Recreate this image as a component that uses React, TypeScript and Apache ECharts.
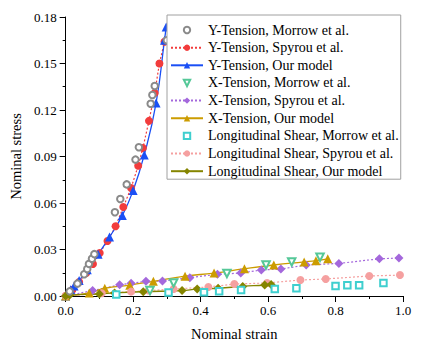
import React, { useEffect, useRef } from "react";
import * as echarts from "echarts";

const xTicks = [0, 0.2, 0.4, 0.6, 0.8, 1.0];
const yTicks = [0, 0.03, 0.06, 0.09, 0.12, 0.15, 0.18];

const seriesNames = [
  "Y-Tension, Morrow et al.",
  "Y-Tension, Spyrou et al.",
  "Y-Tension, Our model",
  "X-Tension, Morrow et al.",
  "X-Tension, Spyrou et al.",
  "X-Tension, Our model",
  "Longitudinal Shear, Morrow et al.",
  "Longitudinal Shear, Spyrou et al.",
  "Longitudinal Shear, Our model",
];

const yMorrow = [
  [0.012, 0.003], [0.035, 0.008], [0.055, 0.014], [0.064, 0.0174], [0.069, 0.0207],
  [0.078, 0.024], [0.085, 0.027], [0.146, 0.054], [0.162, 0.0626], [0.181, 0.072],
  [0.207, 0.088], [0.217, 0.096], [0.252, 0.124], [0.257, 0.1297], [0.264, 0.1355],
  [0.3, 0.165],
];
const ySpyrou = [
  [0, 0], [0.02, 0.004], [0.04, 0.009], [0.061, 0.0148], [0.081, 0.0206],
  [0.101, 0.0277], [0.124, 0.0355], [0.148, 0.045], [0.171, 0.0574], [0.194, 0.0697],
  [0.215, 0.084], [0.229, 0.0955], [0.247, 0.113], [0.264, 0.131], [0.278, 0.15],
  [0.293, 0.164],
];
const yModel = [
  [0, 0], [0.015, 0.004], [0.025, 0.0065], [0.04, 0.01], [0.064, 0.017],
  [0.096, 0.027], [0.13, 0.038], [0.168, 0.052], [0.2, 0.068], [0.233, 0.091],
  [0.268, 0.1245], [0.293, 0.165], [0.298, 0.1735],
];
const xMorrow = [
  [0.25, 0.0035], [0.32, 0.0084], [0.478, 0.0145], [0.594, 0.02], [0.67, 0.022], [0.754, 0.025],
];
const xSpyrou = [
  [0, 0], [0.08, 0.0035], [0.16, 0.0072], [0.194, 0.0082], [0.238, 0.0095],
  [0.287, 0.0097], [0.368, 0.0118], [0.45, 0.014], [0.519, 0.0148], [0.58, 0.0168],
  [0.638, 0.0174], [0.713, 0.02], [0.81, 0.021], [0.93, 0.024], [0.988, 0.0245],
];
const xModel = [
  [0, 0], [0.07, 0.002], [0.116, 0.005], [0.19, 0.007], [0.26, 0.0095],
  [0.354, 0.0128], [0.44, 0.0148], [0.53, 0.0176], [0.617, 0.02], [0.707, 0.022],
  [0.742, 0.0228], [0.777, 0.024],
];
const sMorrow = [
  [0.15, 0.001], [0.305, 0.0022], [0.41, 0.0024], [0.455, 0.003], [0.52, 0.0038],
  [0.62, 0.0045], [0.684, 0.005], [0.8, 0.0065], [0.835, 0.007], [0.87, 0.007],
  [0.942, 0.0084],
];
const sSpyrou = [
  [0, 0], [0.107, 0.0018], [0.194, 0.0028], [0.246, 0.0035], [0.32, 0.0045],
  [0.423, 0.0058], [0.5, 0.0077], [0.597, 0.0084], [0.696, 0.0103], [0.771, 0.011],
  [0.9, 0.0129], [0.991, 0.0135],
];
const sModel = [
  [0, 0], [0.012, 0.0006], [0.1, 0.0013], [0.145, 0.002], [0.23, 0.0028],
  [0.345, 0.0035], [0.39, 0.0045], [0.452, 0.005], [0.525, 0.0062], [0.59, 0.0071],
  [0.609, 0.0075],
];

const FONT = "Times New Roman, Liberation Serif, DejaVu Serif, serif";

export default function App() {
  const ref = useRef<HTMLDivElement>(null);
  useEffect(() => {
    if (!ref.current) return;
    const chart = echarts.init(ref.current, undefined, { renderer: "svg" });

    const markers = (name: string, data: number[][], symbol: string, color: string, size: number, rotate = 0) => ({
      name,
      type: "line",
      data,
      symbol,
      symbolSize: size,
      symbolRotate: rotate,
      showSymbol: true,
      lineStyle: { width: 0, opacity: 0 },
      itemStyle: { color, borderColor: color, borderWidth: 0.9 },
      z: 3,
    });
    const line = (
      name: string,
      data: number[][],
      symbol: string,
      color: string,
      size: number,
      dashed: boolean,
      smooth: boolean
    ) => ({
      name,
      type: "line",
      data,
      symbol,
      symbolSize: size,
      showSymbol: true,
      smooth,
      lineStyle: { color, width: dashed ? 1.2 : 1.3, type: dashed ? [2, 2] : "solid" },
      itemStyle: { color },
      z: 2,
    });

    chart.setOption({
      animation: false,
      backgroundColor: "#ffffff",
      textStyle: { fontFamily: FONT },
      grid: { left: 57, right: 19, top: 17, bottom: 56, containLabel: false },
      legend: {
        orient: "vertical",
        left: 167,
        top: 15,
        padding: [8, 2, 1, 3],
        itemWidth: 32,
        itemHeight: 8,
        itemGap: 3.65,
        borderColor: "#a0a0a0",
        borderWidth: 1,
        backgroundColor: "#ffffff",
        textStyle: { fontFamily: FONT, fontSize: 14, color: "#000" },
        data: seriesNames,
      },
      xAxis: {
        type: "value",
        min: xTicks[0],
        max: xTicks[xTicks.length - 1],
        interval: 0.2,
        name: "Nominal strain",
        nameLocation: "middle",
        nameGap: 30,
        nameTextStyle: { fontFamily: FONT, fontSize: 14.5, color: "#000" },
        axisLine: { show: true, lineStyle: { color: "#000", width: 1 } },
        axisTick: { show: true, inside: false, length: 6, lineStyle: { color: "#000" } },
        minorTick: { show: true, splitNumber: 2, length: 3, lineStyle: { color: "#000" } },
        splitLine: { show: false },
        axisLabel: {
          fontFamily: FONT,
          fontSize: 13,
          color: "#000",
          margin: 8,
          formatter: (v: number) => v.toFixed(1),
        },
      },
      yAxis: {
        type: "value",
        min: yTicks[0],
        max: yTicks[yTicks.length - 1],
        interval: 0.03,
        name: "Nominal stress",
        nameLocation: "middle",
        nameGap: 36,
        nameTextStyle: { fontFamily: FONT, fontSize: 14.5, color: "#000" },
        axisLine: { show: true, lineStyle: { color: "#000", width: 1 } },
        axisTick: { show: true, inside: false, length: 6, lineStyle: { color: "#000" } },
        minorTick: { show: true, splitNumber: 2, length: 3, lineStyle: { color: "#000" } },
        splitLine: { show: false },
        axisLabel: {
          fontFamily: FONT,
          fontSize: 13,
          color: "#000",
          margin: 9,
          formatter: (v: number) => v.toFixed(2),
        },
      },
      series: [
        markers(seriesNames[0], yMorrow, "emptyCircle", "#8a8a8a", 6.5),
        line(seriesNames[1], ySpyrou, "circle", "#f23c3c", 8, true, false),
        line(seriesNames[2], yModel, "triangle", "#1a4ff5", 9, false, true),
        markers(seriesNames[3], xMorrow, "emptyTriangle", "#55c898", 7.5, 180),
        line(seriesNames[4], xSpyrou, "diamond", "#a468dc", 9, true, false),
        line(seriesNames[5], xModel, "triangle", "#cc9c00", 9, false, true),
        markers(seriesNames[6], sMorrow, "emptyRect", "#3fcfcf", 6.5),
        line(seriesNames[7], sSpyrou, "circle", "#f5a0a0", 8, true, false),
        line(seriesNames[8], sModel, "diamond", "#858500", 9, false, true),
      ],
    });
    return () => chart.dispose();
  }, []);
  return (
    <div
      ref={ref}
      style={{ position: "fixed", left: 0, top: 0, width: 422, height: 352, background: "#fff" }}
    />
  );
}
